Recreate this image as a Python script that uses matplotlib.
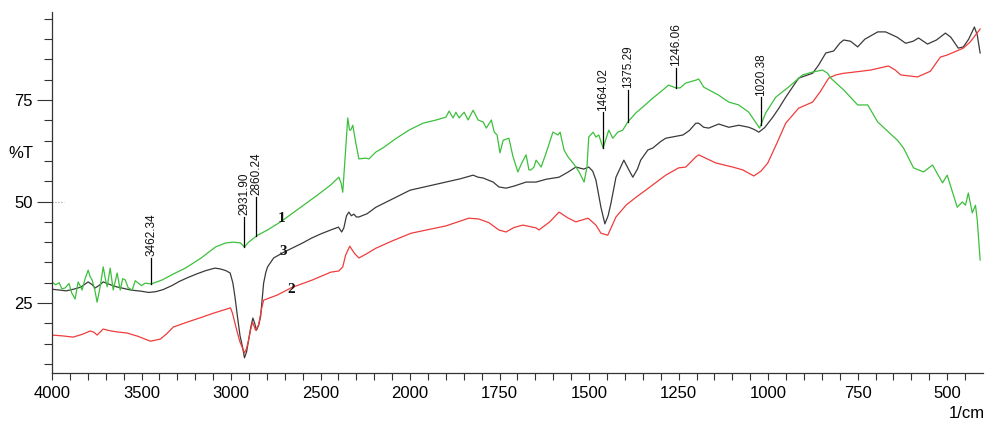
import numpy as np
import matplotlib
matplotlib.use('Agg')
import matplotlib.pyplot as plt
from matplotlib.ticker import FixedLocator, NullFormatter

# spectrum 1 (green)
green_wn = [4000, 3980, 3960, 3945, 3927, 3905, 3890, 3871, 3854, 3840, 3832, 3815, 3798, 3787,
            3776, 3760, 3748, 3731, 3714, 3700, 3692, 3675, 3658, 3636, 3619, 3605, 3591, 3575,
            3552, 3535, 3518, 3500, 3479, 3445, 3384, 3320, 3255, 3170, 3087, 3030, 2986, 2947,
            2925, 2902, 2852, 2796, 2723, 2611, 2520, 2443, 2415, 2398, 2385, 2376, 2365, 2348,
            2338, 2331, 2320, 2303, 2286, 2247, 2230, 2191, 2152, 2080, 2006, 1964, 1927, 1900,
            1891, 1880, 1872, 1863, 1849, 1838, 1824, 1810, 1796, 1787, 1773, 1765, 1757, 1749,
            1740, 1724, 1713, 1699, 1687, 1676, 1668, 1662, 1654, 1648, 1634, 1620, 1601, 1587,
            1581, 1570, 1559, 1545, 1537, 1528, 1514, 1506, 1501, 1489, 1481, 1473, 1461, 1445,
            1434, 1420, 1406, 1392, 1370, 1350, 1322, 1294, 1278, 1258, 1246, 1230, 1202, 1194,
            1180, 1155, 1138, 1110, 1082, 1054, 1024, 1007, 979, 943, 904, 876, 848, 834,
            825, 789, 750, 722, 694, 678, 639, 622, 594, 566, 541, 513, 500, 472,
            458, 449, 441, 430, 421, 416, 408]
green_t = [30.2, 29.5, 30.0, 28.5, 28.7, 29.8, 27.5, 26.0, 30.2, 29.0, 28.2, 31.0, 33.1, 31.5,
           30.7, 28.0, 25.2, 29.0, 33.9, 30.5, 29.0, 33.6, 28.2, 32.4, 28.2, 31.0, 30.7, 28.8,
           28.2, 30.5, 29.9, 29.3, 29.9, 29.7, 30.7, 32.2, 33.6, 36.0, 38.8, 39.8, 40.0, 39.8,
           38.8, 40.0, 41.7, 43.0, 45.0, 48.6, 51.5, 54.1, 55.3, 56.0, 54.5, 52.3, 59.5, 70.6,
           67.6, 67.6, 68.8, 64.4, 60.5, 60.7, 60.5, 62.2, 63.2, 65.5, 67.6, 69.3, 70.1, 70.8,
           72.3, 70.6, 72.0, 70.6, 72.0, 70.1, 72.5, 70.1, 69.6, 68.1, 70.1, 67.1, 66.4, 62.0,
           65.1, 65.6, 61.2, 57.3, 59.7, 61.5, 57.8, 57.8, 58.5, 60.2, 58.5, 62.0, 67.1, 66.4,
           67.1, 62.7, 61.0, 59.5, 58.5, 57.3, 54.8, 58.5, 65.9, 67.1, 65.9, 66.4, 63.2, 67.6,
           65.6, 67.1, 67.6, 69.6, 71.8, 73.3, 75.5, 77.5, 78.7, 78.0, 78.0, 79.2, 79.9, 80.2,
           78.2, 77.0, 76.2, 74.5, 73.8, 72.0, 68.1, 71.8, 75.7, 78.2, 81.2, 81.9, 82.4, 81.6,
           80.4, 77.5, 73.8, 73.8, 69.6, 68.3, 65.1, 63.2, 58.3, 57.3, 59.0, 54.6, 56.5, 48.6,
           49.9, 49.1, 52.1, 47.2, 49.1, 45.4, 35.6]

# spectrum 2 (red)
red_wn = [4000, 3940, 3882, 3830, 3787, 3765, 3748, 3730, 3714, 3680, 3640, 3580, 3520, 3451,
          3395, 3360, 3322, 3244, 3170, 3098, 3040, 3003, 2992, 2978, 2964, 2950, 2936, 2925,
          2913, 2902, 2890, 2880, 2863, 2846, 2830, 2818, 2740, 2662, 2550, 2443, 2398, 2376,
          2360, 2337, 2310, 2286, 2240, 2191, 2100, 1997, 1900, 1836, 1808, 1780, 1752, 1732,
          1710, 1685, 1648, 1640, 1610, 1584, 1560, 1537, 1503, 1481, 1467, 1448, 1425, 1397,
          1370, 1342, 1286, 1250, 1230, 1202, 1194, 1170, 1146, 1099, 1071, 1040, 1020, 1001,
          975, 951, 915, 876, 855, 831, 811, 789, 750, 714, 664, 645, 630, 583,
          547, 519, 500, 455, 436, 408]
red_t = [17.1, 16.9, 16.6, 17.3, 18.1, 17.8, 17.1, 17.9, 18.6, 18.2, 17.9, 17.6, 16.8, 15.6,
         16.1, 17.4, 19.1, 20.3, 21.4, 22.5, 23.3, 23.8, 22.5, 20.0, 17.6, 15.4, 13.9, 12.7,
         13.8, 15.9, 18.5, 20.3, 18.3, 19.6, 23.5, 25.7, 27.0, 28.8, 30.6, 32.6, 32.9, 33.9,
         36.8, 39.0, 37.2, 36.1, 37.2, 38.5, 40.3, 42.2, 44.0, 45.9, 45.7, 44.8, 43.0, 42.5,
         43.6, 44.2, 43.5, 43.0, 45.0, 47.4, 46.0, 45.0, 45.9, 44.2, 42.2, 41.7, 46.2, 49.1,
         51.0, 52.8, 56.5, 58.3, 58.5, 61.0, 61.5, 60.5, 59.5, 58.5, 57.8, 56.3, 57.5, 59.5,
         64.5, 69.3, 73.0, 74.5, 77.0, 80.4, 81.2, 81.6, 82.0, 82.4, 83.4, 82.4, 81.2, 80.7,
         82.1, 85.6, 86.1, 87.8, 89.3, 92.5]

# spectrum 3 (black)
black_wn = [4000, 3960, 3920, 3880, 3840, 3798, 3775, 3759, 3735, 3714, 3680, 3640, 3600, 3560,
            3500, 3460, 3420, 3380, 3330, 3290, 3240, 3190, 3140, 3090, 3060, 3030, 3005, 2990,
            2978, 2964, 2950, 2936, 2925, 2913, 2902, 2890, 2878, 2868, 2858, 2846, 2835, 2826,
            2818, 2806, 2796, 2762, 2706, 2650, 2600, 2550, 2500, 2443, 2400, 2382, 2370, 2355,
            2342, 2328, 2314, 2300, 2286, 2240, 2191, 2100, 2000, 1950, 1900, 1860, 1824, 1810,
            1796, 1768, 1752, 1732, 1710, 1676, 1648, 1620, 1584, 1560, 1537, 1515, 1501, 1490,
            1481, 1467, 1456, 1447, 1439, 1425, 1403, 1389, 1378, 1365, 1356, 1336, 1322, 1300,
            1286, 1238, 1220, 1202, 1194, 1180, 1166, 1138, 1110, 1082, 1054, 1040, 1026, 1010,
            987, 970, 951, 915, 876, 860, 839, 817, 800, 789, 770, 750, 730, 694,
            672, 640, 616, 595, 580, 555, 530, 505, 490, 469, 455, 440, 424, 416, 408]
black_t = [28.4, 28.2, 28.0, 28.4, 28.9, 30.2, 29.5, 28.7, 29.4, 30.2, 29.6, 29.0, 28.6, 28.2,
           27.9, 27.6, 27.8, 28.3, 29.3, 30.3, 31.3, 32.2, 33.0, 33.6, 33.4, 33.0, 32.4, 30.0,
           26.5, 21.6, 17.0, 14.2, 11.5, 13.0, 15.9, 19.0, 21.3, 20.0, 18.3, 19.5, 21.6, 26.0,
           29.9, 32.5, 33.9, 36.1, 37.5, 38.7, 39.8, 41.0, 42.0, 43.0, 43.7, 42.5, 43.5, 46.5,
           47.4, 46.5, 46.9, 46.2, 46.2, 47.0, 48.6, 50.6, 52.8, 53.8, 54.8, 55.6, 56.5, 56.0,
           55.8, 54.8, 53.6, 53.3, 53.8, 54.8, 54.8, 55.5, 56.0, 57.2, 58.5, 58.0, 58.5, 57.5,
           55.3, 48.6, 44.5, 46.5, 49.6, 56.0, 60.2, 57.8, 56.0, 58.0, 60.2, 62.7, 63.2, 64.8,
           65.6, 66.4, 67.5, 69.3, 69.3, 68.3, 68.1, 69.1, 68.3, 68.8, 68.3, 67.8, 67.1, 68.2,
           70.8, 73.0, 75.7, 80.4, 81.6, 83.5, 86.6, 87.1, 89.0, 89.8, 89.5, 88.1, 90.0, 91.8,
           91.8, 90.5, 89.0, 89.5, 90.3, 88.8, 89.8, 91.5, 90.5, 87.8, 88.1, 90.0, 93.0, 91.0, 86.6]

# peak marks on spectrum 1
peak_labels = ['3462.34', '2931.90', '2860.24', '1464.02', '1375.29', '1246.06', '1020.38']
peak_pos = [3446, 2925, 2858, 1461, 1392, 1258, 1021]
peak_top = [36.1, 46.2, 51.1, 72.0, 77.5, 82.9, 75.7]

# curve numbers
curve_names = ['1', '3', '2']
curve_name_x = [2718, 2706, 2662]
curve_name_y = [45.9, 37.6, 28.4]

x_major = [4000, 3500, 3000, 2500, 2000, 1750, 1500, 1250, 1000, 750, 500]
y_major = [25, 50, 75]

GREEN = '#3cc03c'
RED = '#f03c3c'
BLACK = '#3a3a3a'
AXIS = '#333333'


def fwd(x):
    x = np.asarray(x, dtype=float)
    return np.where(x > 2000, 2000 + (x - 2000) / 2.0, x)


def inv(x):
    x = np.asarray(x, dtype=float)
    return np.where(x > 2000, 2000 + (x - 2000) * 2.0, x)


plt.rcParams['font.family'] = ['Liberation Sans', 'DejaVu Sans']

fig = plt.figure(figsize=(9.87, 4.22), dpi=100)
ax = fig.add_axes([52 / 987, 1 - 373 / 422, 931 / 987, 361 / 422])
ax.set_xscale('function', functions=(fwd, inv))
ax.set_xlim(4000, 400)
ax.set_ylim(7.76, 96.7)

ax.plot(black_wn, black_t, color=BLACK, lw=0.9)
ax.plot(red_wn, red_t, color=RED, lw=0.9)
ax.plot(green_wn, green_t, color=GREEN, lw=0.9)

# peak lines and labels
g_x = np.array(green_wn[::-1])
g_y = np.array(green_t[::-1])
for lab, pos, top in zip(peak_labels, peak_pos, peak_top):
    base = np.interp(pos, g_x, g_y)
    ax.plot([pos, pos], [base, top], color='black', lw=0.9)
    ax.text(pos, top + 0.4, lab, rotation=90, ha='center', va='bottom',
            fontsize=8.5, color='#111111')

for name, nx, ny in zip(curve_names, curve_name_x, curve_name_y):
    ax.text(nx, ny, name, ha='center', va='center', fontsize=11,
            fontweight='bold', family='Liberation Serif', color='#111111')

# small dotted stub at 50
ax.axhline(50, xmin=0, xmax=0.013, color='#999999', lw=0.8, ls=':')

for s in ['top', 'right']:
    ax.spines[s].set_visible(False)
for s in ['left', 'bottom']:
    ax.spines[s].set_color(AXIS)
    ax.spines[s].set_linewidth(0.9)

ax.xaxis.set_major_locator(FixedLocator(x_major))
ax.xaxis.set_minor_locator(FixedLocator(list(range(2100, 4000, 100)) + list(range(450, 2000, 50))))
ax.xaxis.set_minor_formatter(NullFormatter())
ax.set_xticklabels([str(v) for v in x_major])
ax.yaxis.set_major_locator(FixedLocator(y_major))
ax.yaxis.set_minor_locator(FixedLocator(list(range(10, 100, 5))))
ax.set_yticklabels([str(v) for v in y_major])

ax.tick_params(axis='x', which='both', direction='out', length=5, width=0.8,
               color=AXIS, labelsize=12, pad=4)
ax.tick_params(axis='y', which='major', direction='out', length=11, width=0.8,
               color=AXIS, labelsize=12, pad=3)
ax.tick_params(axis='y', which='minor', direction='out', length=6, width=0.8, color=AXIS)

fig.text(21 / 987, 1 - 153 / 422, '%T', ha='center', va='center', fontsize=12)
fig.text(985 / 987, 1 - 414 / 422, '1/cm', ha='right', va='center', fontsize=12)

fig.savefig('out.png', dpi=100)
